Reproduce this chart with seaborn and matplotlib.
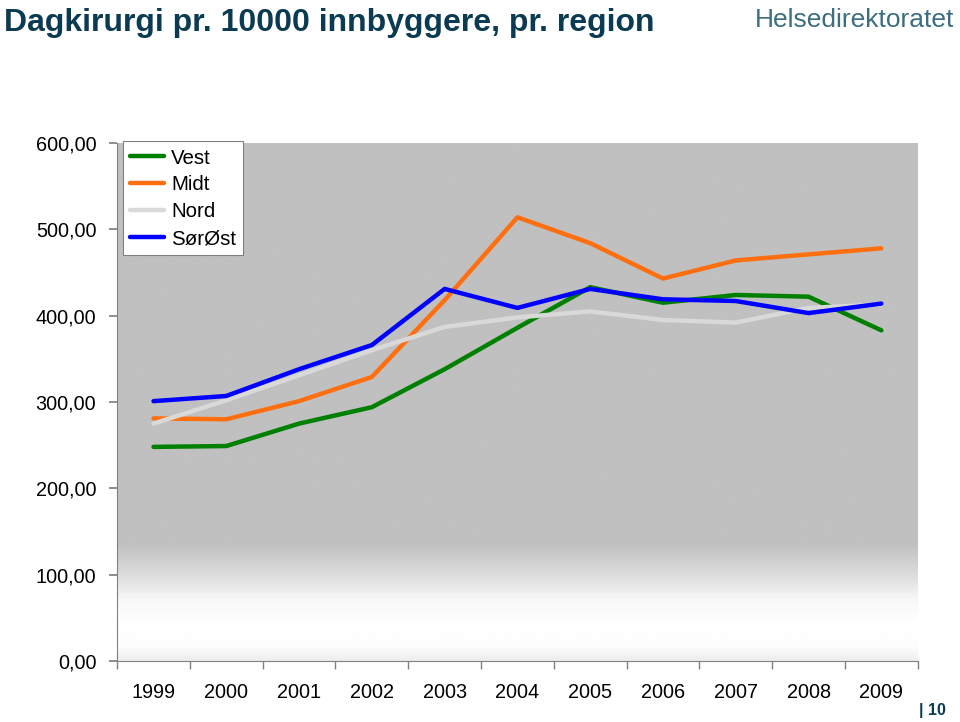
import numpy as np
import pandas as pd
import matplotlib
matplotlib.use("Agg")
import matplotlib.pyplot as plt
import seaborn as sns

# ---------------------------------------------------------------------
# Data (per 10000 inhabitants)
# ---------------------------------------------------------------------
years = ["1999", "2000", "2001", "2002", "2003", "2004", "2005", "2006", "2007", "2008", "2009"]
vest = [248, 249, 275, 294, 338, 386, 433, 415, 424, 422, 383]
midt = [281, 280, 301, 329, 418, 514, 484, 443, 464, 471, 478]
nord = [275, 302, 331, 360, 387, 398, 405, 395, 392, 409, 413]
sorost = [301, 307, 338, 366, 431, 409, 431, 419, 417, 403, 414]
regions = ["Vest", "Midt", "Nord", "SørØst"]
colors = ["#008000", "#FF6F0F", "#D9D9D9", "#0000FF"]
y_ticks = [0, 100, 200, 300, 400, 500, 600]

series = {"Vest": vest, "Midt": midt, "Nord": nord, "SørØst": sorost}
df = pd.DataFrame(
    [(i, r, v) for r in regions for i, v in enumerate(series[r])],
    columns=["pos", "region", "value"],
)

sns.set_theme(style="white")
plt.rcParams["font.family"] = ["Liberation Sans", "DejaVu Sans"]
plt.rcParams["text.color"] = "black"
plt.rcParams["xtick.color"] = "black"
plt.rcParams["ytick.color"] = "black"

fig = plt.figure(figsize=(9.6, 7.22), dpi=100)
ax = fig.add_axes([0.122, 0.0845, 0.834, 0.7174])

# plot area background: flat grey fading to white near the bottom
stop_vals = [0, 15, 40, 70, 100, 135, 600]
stop_shades = [0.93, 0.99, 1.0, 0.97, 0.86, 0.753, 0.753]
grid_y = np.linspace(0, 600, 241)
shade = np.interp(grid_y, stop_vals, stop_shades)
ax.imshow(shade[:, None], cmap="gray", vmin=0, vmax=1, aspect="auto",
          extent=[-0.5, len(years) - 0.5, 0, 600], origin="lower",
          interpolation="bilinear", zorder=0)

sns.lineplot(data=df, x="pos", y="value", hue="region", hue_order=regions,
             palette=colors, linewidth=3.2, ax=ax, zorder=3, legend=True)

ax.set_xlim(-0.5, len(years) - 0.5)
ax.set_ylim(0, 600)
ax.set_xticks(range(len(years)))
ax.set_xticklabels(years)
ax.set_xticks(np.arange(-0.5, len(years)), minor=True)
ax.tick_params(axis="x", which="major", length=0, pad=16, labelsize=14.3)
ax.tick_params(axis="x", which="minor", length=6, color="#808080", direction="out", bottom=True)
ax.set_yticks(y_ticks)
ax.set_yticklabels([f"{v},00" for v in y_ticks])
ax.tick_params(axis="y", length=6, color="#808080", direction="out", left=True, labelsize=14.3, pad=9)
ax.set_xlabel("")
ax.set_ylabel("")
for side in ["top", "right"]:
    ax.spines[side].set_visible(False)
for side in ["left", "bottom"]:
    ax.spines[side].set_color("#808080")
    ax.spines[side].set_linewidth(0.8)

leg = ax.legend(loc="upper left", bbox_to_anchor=(0.007, 1.003), fontsize=14.8,
                frameon=True, fancybox=False, handlelength=1.65, handletextpad=0.35,
                labelspacing=0.38, borderpad=0.35, borderaxespad=0.0)
leg.get_frame().set_edgecolor("#808080")
leg.get_frame().set_facecolor("white")
leg.get_frame().set_linewidth(0.8)
leg.get_frame().set_alpha(1)
for line in leg.get_lines():
    line.set_linewidth(3.2)

# header and footer text
fig.text(0.004, 0.968, "Dagkirurgi pr. 10000 innbyggere, pr. region", fontsize=23,
         fontweight="bold", color="#0B3B52", ha="left", va="center")
fig.text(0.994, 0.972, "Helsedirektoratet", fontsize=19, color="#3C6E82",
         ha="right", va="center", family=["Liberation Sans Narrow", "Liberation Sans"])
fig.text(0.985, 0.016, "| 10", fontsize=11.5, fontweight="bold", color="#0B3B52",
         ha="right", va="center")

fig.savefig("out.png", dpi=100)
